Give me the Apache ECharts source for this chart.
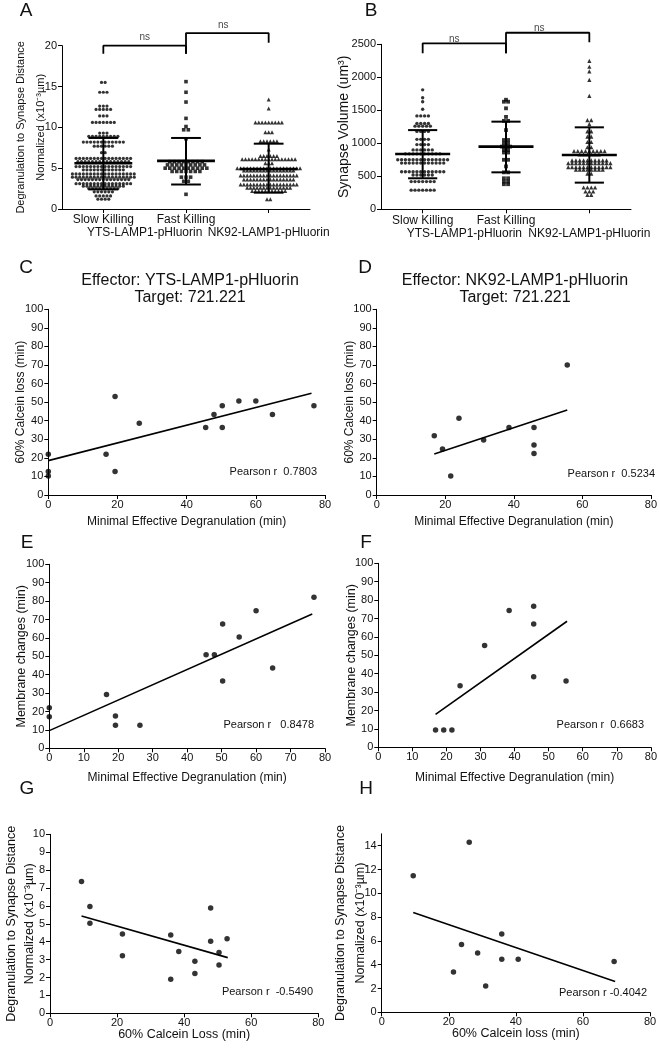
<!DOCTYPE html>
<html><head><meta charset="utf-8">
<script src="https://cdn.jsdelivr.net/npm/echarts@6.0.0/dist/echarts.min.js"></script>
<style>html,body{margin:0;padding:0;background:#fff}#c{width:660px;height:1050px}</style>
</head><body><div id="c"></div>
<script>
// ---------- DATA ----------
const groupLabels = ['Slow Killing', 'Fast Killing', ''];
const subLabels = ['YTS-LAMP1-pHluorin', 'NK92-LAMP1-pHluorin'];
const subLabelPos = [1.0, 2.5];

// Panel A: degranulation-to-synapse distance, rows of [value, number of dots]
const aSlowRows = [[15.5,2],[14.3,3],[12.6,3],[12.2,5],[11.4,3],[10.6,7],[9.3,3],[8.9,9],[8.2,12],[7.7,6],[6.9,2],[6.2,16],[5.8,15],[5.2,16],[4.8,12],[4.3,18],[3.9,18],[3.6,15],[3.1,16],[2.8,12],[2.5,9],[2.1,6],[1.6,5],[1.2,4]];
const aFastRows = [[15.6,1],[14.3,1],[13.1,1],[11.1,1],[10.1,1],[9.7,2],[8.6,1],[5.8,8],[5.4,9],[5.0,10],[4.6,7],[3.9,3],[3.4,2],[1.8,1]];
const aNkRows = [[13.4,1],[12.3,1],[10.6,9],[9.4,3],[8.3,6],[7.3,1],[6.5,6],[6.1,17],[5.6,3],[5.0,20],[4.7,16],[4.1,18],[3.6,16],[3.0,18],[2.6,14],[2.2,11],[1.2,2]];
const aMean = [5.6, 5.9, 4.9];
const aSdLow = [2.4, 3.0, 2.0];
const aSdHigh = [8.7, 8.7, 8.0];

// Panel B: synapse volume
const bSlowRows = [[1810,1],[1690,1],[1630,1],[1515,1],[1415,4],[1300,4],[1260,5],[1180,4],[1060,4],[980,4],[900,6],[840,10],[750,14],[700,12],[570,12],[520,6],[420,7],[290,7]];
const bFastRows = [[1660,1],[1630,2],[1530,1],[1400,1],[1340,2],[1200,1],[1050,2],[1000,2],[950,3],[900,2],[860,2],[750,2],[650,1],[560,2],[470,2],[420,2],[380,2]];
const bNkRows = [[2250,1],[2160,1],[2090,1],[1960,1],[1720,1],[1350,2],[1290,1],[1180,2],[1100,2],[1020,2],[940,2],[880,9],[830,6],[740,10],[700,12],[640,12],[600,8],[540,2],[330,4],[270,3],[220,2]];
const bMean = [838, 950, 823];
const bSdLow = [470, 560, 404];
const bSdHigh = [1200, 1328, 1242];

// Panel C
const cX = [0,0,0,16.7,19.3,19.3,26.3,45.5,47.9,50.3,50.3,55.1,60.0,64.8,76.8];
const cY = [21.9,12.6,10.2,21.9,53,12.6,38.6,36.3,43.4,48.1,36.3,50.6,50.6,43.4,48.1];
const cFit = [[0,18.5],[76.1,54.8]];
// Panel D
const dX = [16.8,19.2,21.6,24.0,31.2,38.6,45.9,45.9,45.9,55.6];
const dY = [31.9,24.8,10.2,41.3,29.6,36.4,36.4,26.9,22.4,70.0];
const dFit = [[16.8,22.1],[55.6,45.8]];
// Panel E
const eX = [0,0,16.6,19.2,19.2,26.3,45.5,47.9,50.3,50.3,55.1,60.0,64.8,76.8];
const eY = [22.1,17.2,29.3,17.6,12.5,12.5,50.9,50.9,67.6,36.6,60.5,74.8,43.7,82.1];
const eFit = [[0,9.6],[76.3,73.0]];
// Panel F
const fX = [16.8,19.2,21.6,24.0,31.2,38.4,45.6,45.6,45.6,55.1];
const fY = [9.4,9.4,9.4,33.5,55.3,74.3,76.6,67.0,38.4,36.1];
const fFit = [[16.8,17.9],[55.4,68.5]];
// Panel G
const gX = [9.4,11.9,11.9,21.6,21.6,36.0,36.0,38.4,43.2,43.2,47.9,47.9,50.4,50.4,52.8];
const gY = [7.36,5.96,5.03,4.43,3.22,4.38,1.90,3.45,2.91,2.22,5.88,4.02,3.39,2.70,4.17];
const gFit = [[9.4,5.44],[53.0,3.11]];
// Panel H
const hX = [9.4,26.1,23.8,21.4,28.6,31.0,35.8,35.8,40.7,69.3];
const hY = [11.48,14.29,5.69,3.39,4.99,2.21,6.58,4.45,4.45,4.26];
const hFit = [[9.4,8.38],[69.6,2.58]];
const hTicks = [0,2,4,6,8,10,12,14];

const pearson = ['Pearson r  0.7803','Pearson r  0.5234','Pearson r   0.8478','Pearson r  0.6683','Pearson r  -0.5490','Pearson r -0.4042'];

// ---------- HELPERS ----------
const FF = '"Liberation Sans", Arial, Helvetica, sans-serif';
const INK = '#111';

function swarm(rows, center, step) {
  const out = [];
  rows.forEach(function (r) {
    const v = r[0], n = r[1];
    for (let i = 0; i < n; i++) out.push([center + (i - (n - 1) / 2) * step, v]);
  });
  return out;
}
function zip(xs, ys) { return xs.map(function (x, i) { return [x, ys[i]]; }); }

function valAxis(grid, min, max, interval, name, nameGap, nameSize, lineH, extra) {
  const fs = nameSize || 12;
  const ax = {
    type: 'value', gridIndex: grid, min: min, max: max, interval: interval,
    axisLine: { show: true, onZero: false, lineStyle: { color: '#000', width: 1 } },
    axisTick: { show: true, length: 4, lineStyle: { color: '#000', width: 1 } },
    axisLabel: { color: INK, fontSize: 11, fontFamily: FF, margin: 6, formatter: function (v) { return String(v); } },
    splitLine: { show: false },
    name: name, nameLocation: 'middle', nameGap: nameGap, nameMoveOverlap: false,
    nameTextStyle: { color: INK, fontSize: fs, fontFamily: FF, lineHeight: lineH || (fs + 4) }
  };
  if (extra) extra(ax);
  return ax;
}

function statSeries(xi, yi, means, lo, hi, hwMean, hwCap) {
  return {
    type: 'custom', xAxisIndex: xi, yAxisIndex: yi, z: 5, silent: true,
    data: means.map(function (m, i) { return [i + 0.5, m, lo[i], hi[i]]; }),
    encode: { x: 0, y: [1, 2, 3] },
    renderItem: function (params, api) {
      const x = api.value(0), m = api.value(1), l = api.value(2), h = api.value(3);
      const segs = [[x - hwMean, m, x + hwMean, m, 2.6], [x - hwCap, l, x + hwCap, l, 2], [x - hwCap, h, x + hwCap, h, 2], [x, l, x, h, 2]];
      return {
        type: 'group',
        children: segs.map(function (s) {
          const a = api.coord([s[0], s[1]]), b = api.coord([s[2], s[3]]);
          return { type: 'line', shape: { x1: a[0], y1: a[1], x2: b[0], y2: b[1] }, style: { stroke: '#000', lineWidth: s[4] } };
        })
      };
    }
  };
}

function dots(xi, yi, data, symbol, size) {
  return { type: 'scatter', xAxisIndex: xi, yAxisIndex: yi, data: data, symbol: symbol, symbolSize: size,
    itemStyle: { color: '#000' }, silent: true, z: 3 };
}
function bracket(xi, yi, pts) {
  return { type: 'line', xAxisIndex: xi, yAxisIndex: yi, data: pts, symbol: 'none', clip: false,
    lineStyle: { color: '#000', width: 1.8 }, silent: true, z: 4 };
}
function nsLabel(xi, yi, pt, dist) {
  return { type: 'scatter', xAxisIndex: xi, yAxisIndex: yi, data: [pt], symbolSize: 1, clip: false,
    itemStyle: { color: 'rgba(0,0,0,0)' }, silent: true,
    label: { show: true, position: 'top', distance: dist, formatter: 'ns', fontSize: 10, fontFamily: FF, color: INK } };
}
function fitLine(xi, yi, pts) {
  return { type: 'line', xAxisIndex: xi, yAxisIndex: yi, data: pts, symbol: 'none',
    lineStyle: { color: '#000', width: 1.6 }, silent: true, z: 2 };
}
function pts(xi, yi, data) { return dots(xi, yi, data, 'circle', 5.5); }

function catAxis(grid) {
  return {
    type: 'category', gridIndex: grid, data: groupLabels, position: 'bottom',
    axisLine: { show: true, lineStyle: { color: '#000', width: 1 } },
    axisTick: { show: true, alignWithLabel: true, length: 4, lineStyle: { color: '#000' } },
    axisLabel: { color: INK, fontSize: 12, fontFamily: FF, margin: 5, interval: 0 },
    splitLine: { show: false }
  };
}
function subAxis(grid) {
  return {
    type: 'value', gridIndex: grid, min: 0, max: 3, position: 'bottom',
    axisLine: { show: false }, axisTick: { show: false }, splitLine: { show: false },
    axisLabel: { show: true, customValues: subLabelPos, margin: 18, fontSize: 12, fontFamily: FF, color: INK,
      formatter: function (v) { return v < 1.5 ? subLabels[0] : subLabels[1]; } }
  };
}

function txt(x, y, s, size, align) {
  return { type: 'text', silent: true,
    style: { x: x, y: y, text: s, fill: INK, font: size + 'px ' + FF, align: align || 'center', verticalAlign: 'middle', textAlign: align || 'center', textVerticalAlign: 'middle' } };
}

// ---------- OPTION ----------
const option = {
  backgroundColor: '#fff',
  animation: false,
  grid: [
    { left: 62, top: 45.7, width: 248, height: 163.3 },
    { left: 381, top: 44.3, width: 250, height: 165 },
    { left: 48.3, top: 309.3, width: 276.7, height: 185.7 },
    { left: 376.7, top: 309.3, width: 275, height: 185.7 },
    { left: 49.3, top: 564.3, width: 275.7, height: 184 },
    { left: 378.3, top: 563.3, width: 275, height: 184 },
    { left: 50, top: 834.3, width: 268.3, height: 179 },
    { left: 381.7, top: 833.8, width: 268.3, height: 178.5 }
  ],
  xAxis: [
    catAxis(0), subAxis(0),
    catAxis(1), subAxis(1),
    valAxis(2, 0, 80, 20, 'Minimal Effective Degranulation (min)', 19),
    valAxis(3, 0, 80, 20, 'Minimal Effective Degranulation (min)', 19),
    valAxis(4, 0, 80, 10, 'Minimal Effective Degranulation (min)', 21),
    valAxis(5, 0, 80, 10, 'Minimal Effective Degranulation (min)', 22),
    valAxis(6, 0, 80, 20, '60% Calcein Loss (min)', 13, 12.5),
    valAxis(7, 0, 80, 20, '60% Calcein loss (min)', 13, 12.5)
  ].map(function (a, i) { if (i >= 4) a.axisLabel.margin = 4; return a; }),
  yAxis: [
    valAxis(0, 0, 20, 5, 'Degranulation to Synapse Distance\nNormalized (x10⁻³µm)', 11, 11, 20),
    valAxis(1, 0, 2500, 500, 'Synapse Volume (um³)', 28, 14),
    valAxis(2, 0, 100, 10, '60% Calcein loss (min)', 20),
    valAxis(3, 0, 100, 10, '60% Calcein loss (min)', 19),
    valAxis(4, 0, 100, 10, 'Membrane changes (min)', 20, 12.5),
    valAxis(5, 0, 100, 10, 'Membrane changes (min)', 19, 12.5),
    valAxis(6, 0, 10, 1, 'Degranulation to Synapse Distance\nNormalized (x10⁻³µm)', 11, 12.5, 18.5),
    valAxis(7, 0, 15, 2, 'Degranulation to Synapse Distance\nNormalized (x10⁻³µm)', 11.5, 12.5, 20, function (ax) {
      ax.axisLabel.customValues = hTicks; ax.axisTick.customValues = hTicks;
    })
  ].map(function (a) { a.nameRotate = 90; a.axisLabel.margin = 5; return a; }),
  series: [
    // A
    dots(1, 0, swarm(aSlowRows, 0.5, 0.044), 'circle', 3.2),
    dots(1, 0, swarm(aFastRows, 1.5, 0.056), 'rect', 3.6),
    dots(1, 0, swarm(aNkRows, 2.5, 0.040), 'triangle', 4),
    statSeries(1, 0, aMean, aSdLow, aSdHigh, 0.35, 0.18),
    bracket(1, 0, [[0.5, 19], [0.5, 20], [1.5, 20], [1.5, 19]]),
    bracket(1, 0, [[1.5, 19], [1.5, 21.55], [2.5, 21.55], [2.5, 20.35]]),
    nsLabel(1, 0, [1.0, 20], 3),
    nsLabel(1, 0, [1.95, 21.55], 2),
    // B
    dots(3, 1, swarm(bSlowRows, 0.5, 0.046), 'circle', 3.4),
    dots(3, 1, swarm(bFastRows, 1.5, 0.05), 'rect', 3.8),
    dots(3, 1, swarm(bNkRows, 2.5, 0.046), 'triangle', 4.2),
    statSeries(3, 1, bMean, bSdLow, bSdHigh, 0.33, 0.175),
    bracket(3, 1, [[0.5, 2365], [0.5, 2515], [1.5, 2515], [1.5, 2365]]),
    bracket(3, 1, [[1.5, 2365], [1.5, 2675], [2.5, 2675], [2.5, 2530]]),
    nsLabel(3, 1, [0.88, 2515], -1),
    nsLabel(3, 1, [1.9, 2675], -1),
    // C-H
    pts(4, 2, zip(cX, cY)), fitLine(4, 2, cFit),
    pts(5, 3, zip(dX, dY)), fitLine(5, 3, dFit),
    pts(6, 4, zip(eX, eY)), fitLine(6, 4, eFit),
    pts(7, 5, zip(fX, fY)), fitLine(7, 5, fFit),
    pts(8, 6, zip(gX, gY)), fitLine(8, 6, gFit),
    pts(9, 7, zip(hX, hY)), fitLine(9, 7, hFit)
  ],
  graphic: [
    txt(26, 11, 'A', 19), txt(371, 11, 'B', 19),
    txt(26, 268, 'C', 19), txt(365, 268, 'D', 19),
    txt(27, 543, 'E', 19), txt(366, 543, 'F', 19),
    txt(27, 789, 'G', 19), txt(366, 789, 'H', 19),
    txt(190, 280.5, 'Effector: YTS-LAMP1-pHluorin', 16), txt(190, 297.5, 'Target: 721.221', 16),
    txt(515, 280.5, 'Effector: NK92-LAMP1-pHluorin', 16), txt(515, 297.5, 'Target: 721.221', 16),
    txt(317, 472, pearson[0], 11, 'right'), txt(655, 474, pearson[1], 11, 'right'),
    txt(314, 725, pearson[2], 11, 'right'), txt(644, 725, pearson[3], 11, 'right'),
    txt(313, 992, pearson[4], 11, 'right'), txt(647, 993, pearson[5], 11, 'right')
  ]
};

const chart = echarts.init(document.getElementById('c'), null, { renderer: 'canvas' });
chart.setOption(option);
</script>
</body></html>
